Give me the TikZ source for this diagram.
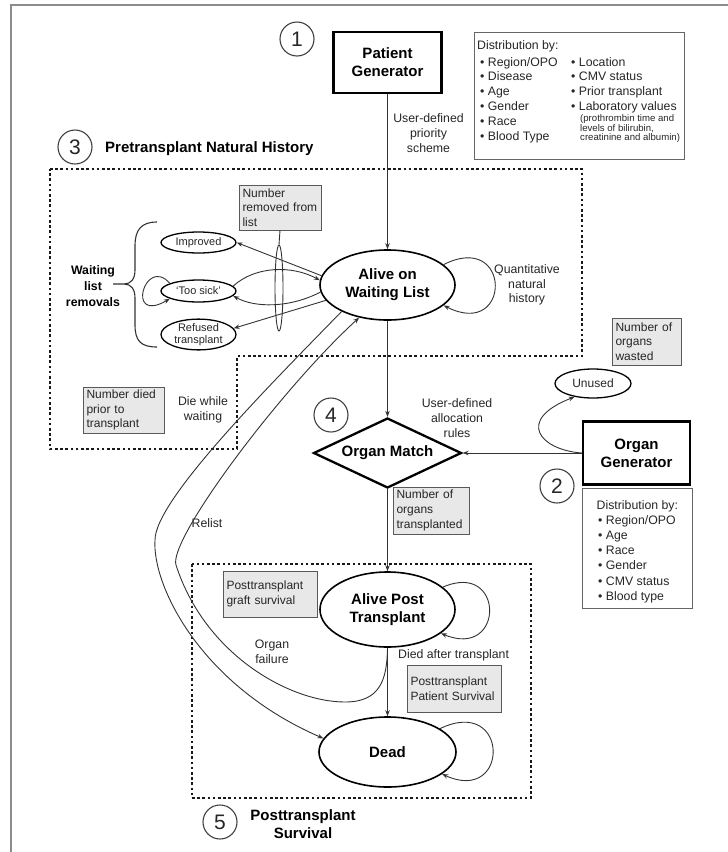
\documentclass[tikz,border=0pt]{standalone}
\usepackage{fontspec}
\setmainfont{Liberation Sans}
\usetikzlibrary{shapes.geometric,arrows.meta}
\begin{document}
\begin{tikzpicture}[x=1pt,y=-1pt,
  every node/.style={inner sep=0pt, text=black!85},
  lbl/.style={font=\fontsize{12.3}{14.7}\selectfont, align=center},
  boldt/.style={font=\bfseries\fontsize{15}{18}\selectfont, text=black},
  graybox/.style={draw=black!65, fill=black!9, line width=0.9pt, rectangle, align=left, font=\fontsize{12}{14.7}\selectfont, inner xsep=3.5pt},
  genbox/.style={draw=black, line width=2.3pt, rectangle, align=center, font=\bfseries\fontsize{15}{18}\selectfont, text=black},
  state/.style={draw=black, line width=1.6pt, ellipse, align=center, font=\bfseries\fontsize{15}{18}\selectfont, text=black},
  smallell/.style={draw=black, line width=1.3pt, ellipse, align=center, font=\fontsize{11}{11.5}\selectfont},
  num/.style={circle, draw=black!75, line width=1.1pt, minimum size=34pt, font=\fontsize{21}{21}\selectfont},
  dist/.style={draw=black!60, line width=1pt, rectangle},
  dtxt/.style={font=\fontsize{12.3}{14.7}\selectfont, anchor=base west},
  conn/.style={draw=black!80, line width=0.9pt},
  arr/.style={conn, -{Stealth[length=6pt,width=4.5pt]}},
  dotbox/.style={draw=black!90, line width=2.6pt, dash pattern=on 2.6pt off 2.6pt},
  framel/.style={draw=black!45, line width=1.8pt}
]
\useasboundingbox (0,0) rectangle (728,852);
\draw[framel] (11,852) -- (11,5) -- (728,5);

% --- top: patient generator
\node[num] (n1) at (297,39) {1};
\node[genbox, minimum width=108pt, minimum height=61pt] (pg) at (387.5,62.5) {Patient\\Generator};
\node[lbl] (ups) at (428.5,133) {User-defined\\priority\\scheme};

% distribution box 1
\node[dist, minimum width=210pt, minimum height=127pt] (d1) at (579,95.5) {};
\node[dtxt] (d1t) at (477,49.3) {Distribution by:};
\node[dtxt] (d1a) at (480,66) {• Region/OPO};
\node[dtxt] (d1b) at (480,80.8) {• Disease};
\node[dtxt] (d1c) at (480,95.6) {• Age};
\node[dtxt] (d1d) at (480,110.4) {• Gender};
\node[dtxt] (d1e) at (480,125.2) {• Race};
\node[dtxt] (d1f) at (480,140) {• Blood Type};
\node[dtxt] (d1g) at (571,66) {• Location};
\node[dtxt] (d1h) at (571,80.8) {• CMV status};
\node[dtxt] (d1i) at (571,95.6) {• Prior transplant};
\node[dtxt] (d1j) at (571,110.4) {• Laboratory values};
\node[font=\fontsize{9.6}{10}\selectfont, anchor=base west] (d1k) at (580,121.5) {(prothrombin time and};
\node[font=\fontsize{9.6}{10}\selectfont, anchor=base west] (d1l) at (580,131) {levels of bilirubin,};
\node[font=\fontsize{9.6}{10}\selectfont, anchor=base west] (d1m) at (580,140.5) {creatinine and albumin)};

% --- pretransplant region
\node[num] (n3) at (75,147) {3};
\node[boldt, anchor=base west] (t3) at (105,152.4) {Pretransplant Natural History};
\draw[dotbox] (50,169) -- (582,169) -- (582,356) -- (237,356) -- (237,449) -- (50,449) -- cycle;

\node[state, minimum width=135pt, minimum height=70pt] (alive) at (387.5,285) {Alive on\\Waiting List};
\draw[arr] (pg.south) -- (alive.north);
\draw[arr] (alive.20) .. controls (512,230) and (512,340) .. (alive.-20);
\node[lbl] (qnh) at (527,285) {Quantitative\\natural\\history};

\node[smallell, minimum width=75pt, minimum height=21pt] (imp) at (198.5,242.5) {Improved};
\node[smallell, minimum width=75pt, minimum height=22pt] (ts) at (198.5,291) {‘Too sick’};
\node[smallell, minimum width=75pt, minimum height=29pt] (ref) at (198.5,334.5) {Refused\\transplant};

\draw[arr] (alive.172) -- (imp.east);
\draw[arr] (ts.8) .. controls (255,266) and (292,265) .. (alive.176);
\draw[arr] (alive.186) .. controls (290,308) and (255,308) .. (ts.-8);
\draw[arr] (alive.194) -- (ref.10);
\draw[arr] (ts.165) .. controls (145,255) and (125,325) .. (ts.195);

\node[graybox, minimum width=82pt, minimum height=45pt, text width=75pt] (rem) at (280,207.5) {Number\\removed from\\list};
\node[draw=black!80, line width=0.9pt, ellipse, minimum width=8pt, minimum height=86pt] (bund) at (279,288) {};
\draw[conn] (rem.south) -- (bund.north);

\node[font=\bfseries\fontsize{12.3}{16}\selectfont, align=center, text=black] (wlr) at (93,286) {Waiting\\list\\removals};
\draw[conn, line width=1.1pt] (157,222) .. controls (141,222) and (135,230) .. (135,246) -- (135,270) .. controls (135,279) and (131,284) .. (124,284) -- (113,284)
  (124,284) .. controls (131,284) and (135,289) .. (135,298) -- (135,325) .. controls (135,341) and (141,347) .. (157,347);

\node[graybox, minimum width=81pt, minimum height=46pt, text width=74pt] (ndied) at (123.5,410) {Number died\\prior to\\transplant};
\node[lbl] (dww) at (203,409.5) {Die while\\waiting};

% --- organ match
\node[num] (n4) at (331,415) {4};
\node[diamond, draw=black, line width=2.3pt, aspect=2.1, minimum width=148pt, minimum height=70pt, font=\bfseries\fontsize{15}{18}\selectfont, text=black] (om) at (387.5,453) {Organ Match};
\draw[arr] (alive.south) -- (om.north);
\node[lbl] (uar) at (457,418) {User-defined\\allocation\\rules};

\node[genbox, minimum width=107pt, minimum height=63pt] (og) at (636.5,453) {Organ\\Generator};
\draw[arr] (og.west) -- (om.east);
\node[smallell, minimum width=76pt, minimum height=29pt, font=\fontsize{12}{14}\selectfont] (unused) at (593,383.5) {Unused};
\draw[arr] (og.west) .. controls (540,450) and (515,420) .. (unused.216);
\node[graybox, minimum width=69pt, minimum height=47pt, text width=62pt] (nwaste) at (646.5,341.5) {Number of\\organs\\wasted};

\node[num] (n2) at (557,486) {2};
\node[dist, minimum width=110pt, minimum height=120pt] (d2) at (637,548) {};
\node[dtxt] (d2t) at (596.5,509.3) {Distribution by:};
\node[dtxt] (d2a) at (598,524.3) {• Region/OPO};
\node[dtxt] (d2b) at (598,539.5) {• Age};
\node[dtxt] (d2c) at (598,554.7) {• Race};
\node[dtxt] (d2d) at (598,569.9) {• Gender};
\node[dtxt] (d2e) at (598,585.1) {• CMV status};
\node[dtxt] (d2f) at (598,600.3) {• Blood type};

\node[graybox, minimum width=76pt, minimum height=47pt, text width=69pt] (ntrans) at (431,510.5) {Number of\\organs\\transplanted};

% --- posttransplant region
\draw[dotbox] (192,564) rectangle (531,798);
\node[state, minimum width=135pt, minimum height=75pt] (apt) at (387.5,609.5) {Alive Post\\Transplant};
\draw[arr] (om.south) -- (apt.north);
\draw[arr] (apt.22) .. controls (505,560) and (505,660) .. (apt.-24);
\node[graybox, minimum width=94pt, minimum height=46pt, text width=87pt] (pgs) at (270,594) {Posttransplant\\graft survival};

\node[state, minimum width=137pt, minimum height=70pt] (dead) at (387.5,752) {Dead};
\draw[arr] (apt.south) -- (dead.north);
\draw[arr] (dead.24) .. controls (510,695) and (510,805) .. (dead.-22);
\node[lbl, anchor=west] (dat) at (398,655) {Died after transplant};
\node[graybox, minimum width=94pt, minimum height=47pt, text width=87pt] (pps) at (454,688.5) {Posttransplant\\Patient Survival};
\node[lbl] (ofl) at (272,652) {Organ\\failure};
\node[lbl] (rel) at (207,523) {Relist};

% long curves
\draw[arr] (alive.210) .. controls (270,385) and (155,500) .. (155,540) .. controls (152,585) and (200,685) .. (dead.168);
\draw[arr] (apt.south) .. controls (387,680) and (380,702) .. (345,702) .. controls (290,702) and (205,655) .. (176,565) .. controls (168,540) and (280,390) .. (alive.229);

\node[num] (n5) at (220,822) {5};
\node[boldt, align=center] (t5) at (303,824) {Posttransplant\\Survival};
\end{tikzpicture}
\end{document}
